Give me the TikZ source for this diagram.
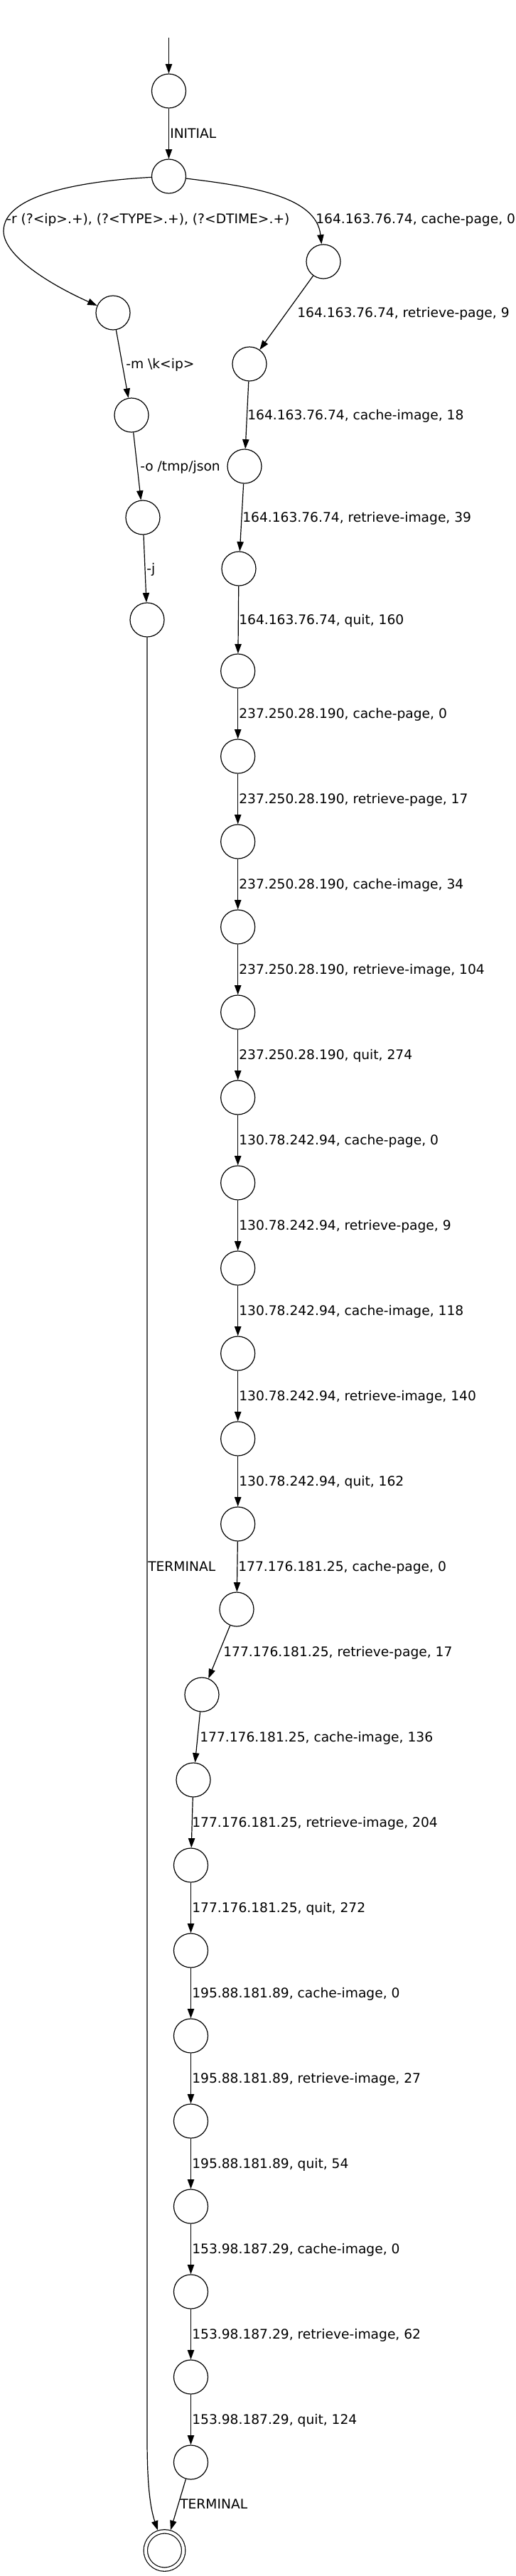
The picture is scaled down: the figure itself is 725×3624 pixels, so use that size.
\documentclass[tikz,border=0pt]{standalone}
\usepackage{fontspec}
\setmainfont{DejaVu Sans}
\usetikzlibrary{arrows.meta}
\begin{document}
\begin{tikzpicture}[x=0.75pt,y=-0.75pt,
  st/.style={circle, draw, line width=0.9pt, minimum size=36pt, inner sep=0pt},
  fin/.style={circle, draw, line width=0.9pt, double, double distance=3.1pt, minimum size=40pt, inner sep=0pt, outer sep=2.45pt},
  arr/.style={line width=0.9pt, -{Triangle[length=10pt,width=7pt]}},
  lbl/.style={anchor=base west, inner sep=0pt, font=\fontsize{14pt}{16pt}\selectfont}]
\useasboundingbox (0,0) rectangle (725,3624);
% nodes
\coordinate (s) at (237.5,53);
\node[st] (n0) at (237.5,128) {};
\node[st] (n1) at (237.5,248) {};
\node[st] (n2) at (455,368) {};
\node[st] (L1) at (159,440) {};
\node[st] (L2) at (185,584) {};
\node[st] (L3) at (201,728) {};
\node[st] (L4) at (207,872) {};
\node[st] (R2) at (351,512) {};
\node[st] (R3) at (344,656) {};
\node[st] (R4) at (336,800) {};
\node[st] (R5) at (334.7,944) {};
\node[st] (R6) at (334.7,1064) {};
\node[st] (R7) at (334.7,1184) {};
\node[st] (R8) at (334.7,1304) {};
\node[st] (R9) at (334.7,1424) {};
\node[st] (R10) at (334.7,1544) {};
\node[st] (R11) at (334.7,1664) {};
\node[st] (R12) at (334.7,1784) {};
\node[st] (R13) at (334.7,1904) {};
\node[st] (R14) at (334.7,2024) {};
\node[st] (R15) at (334.7,2144) {};
\node[st] (R16) at (333,2264) {};
\node[st] (R17) at (284,2384) {};
\node[st] (R18) at (272,2504) {};
\node[st] (R19) at (268.5,2624) {};
\node[st] (R20) at (268.5,2744) {};
\node[st] (R21) at (268.5,2864) {};
\node[st] (R22) at (268.5,2984) {};
\node[st] (R23) at (268.5,3104) {};
\node[st] (R24) at (268.5,3224) {};
\node[st] (R25) at (268.5,3344) {};
\node[st] (R26) at (268.5,3464) {};
\node[fin] (F) at (231.5,3588) {};
\coordinate (bend) at (207,3430);
% edges
\draw[arr] (s) -- (n0);
\draw[arr] (n0) -- (n1);
\draw[arr] (n1) .. controls (350,262) and (445,275) .. (n2);
\draw[arr] (n1) .. controls (110,255) and (5,275) .. (5,325) .. controls (5,360) and (70,400) .. (L1);
\draw[arr] (L1) -- (L2);
\draw[arr] (L2) -- (L3);
\draw[arr] (L3) -- (L4);
\draw[arr] (L4) -- (bend) .. controls (207,3500) and (212,3530) .. (F);
\draw[arr] (n2) -- (R2);
\draw[arr] (R2) -- (R3);
\draw[arr] (R3) -- (R4);
\draw[arr] (R4) -- (R5);
\draw[arr] (R5) -- (R6);
\draw[arr] (R6) -- (R7);
\draw[arr] (R7) -- (R8);
\draw[arr] (R8) -- (R9);
\draw[arr] (R9) -- (R10);
\draw[arr] (R10) -- (R11);
\draw[arr] (R11) -- (R12);
\draw[arr] (R12) -- (R13);
\draw[arr] (R13) -- (R14);
\draw[arr] (R14) -- (R15);
\draw[arr] (R15) -- (R16);
\draw[arr] (R16) -- (R17);
\draw[arr] (R17) -- (R18);
\draw[arr] (R18) -- (R19);
\draw[arr] (R19) -- (R20);
\draw[arr] (R20) -- (R21);
\draw[arr] (R21) -- (R22);
\draw[arr] (R22) -- (R23);
\draw[arr] (R23) -- (R24);
\draw[arr] (R24) -- (R25);
\draw[arr] (R25) -- (R26);
\draw[arr] (R26) -- (F);
% labels
\node[lbl] (t0) at (239,194.8) {INITIAL};
\node[lbl] (t1) at (9,314.8) {-r (?<ip>.+), (?<TYPE>.+), (?<DTIME>.+)};
\node[lbl] (t2) at (444,314.8) {164.163.76.74, cache-page, 0};
\node[lbl] (t3) at (418,446.8) {164.163.76.74, retrieve-page, 9};
\node[lbl] (t4) at (177,518.8) {-m \textbackslash k<ip>};
\node[lbl] (t5) at (348,590.8) {164.163.76.74, cache-image, 18};
\node[lbl] (t6) at (197,662.8) {-o /tmp/json};
\node[lbl] (t7) at (341,734.8) {164.163.76.74, retrieve-image, 39};
\node[lbl] (t8) at (206,806.8) {-j};
\node[lbl] (t9) at (336,878.8) {164.163.76.74, quit, 160};
\node[lbl] (t10) at (336,1010.8) {237.250.28.190, cache-page, 0};
\node[lbl] (t11) at (336,1130.8) {237.250.28.190, retrieve-page, 17};
\node[lbl] (t12) at (336,1250.8) {237.250.28.190, cache-image, 34};
\node[lbl] (t13) at (336,1370.8) {237.250.28.190, retrieve-image, 104};
\node[lbl] (t14) at (336,1490.8) {237.250.28.190, quit, 274};
\node[lbl] (t15) at (336,1610.8) {130.78.242.94, cache-page, 0};
\node[lbl] (t16) at (336,1730.8) {130.78.242.94, retrieve-page, 9};
\node[lbl] (t17) at (336,1850.8) {130.78.242.94, cache-image, 118};
\node[lbl] (t18) at (336,1970.8) {130.78.242.94, retrieve-image, 140};
\node[lbl] (t19) at (336,2090.8) {130.78.242.94, quit, 162};
\node[lbl] (t20) at (208,2210.8) {TERMINAL};
\node[lbl] (t21) at (335,2210.8) {177.176.181.25, cache-page, 0};
\node[lbl] (t22) at (314,2330.8) {177.176.181.25, retrieve-page, 17};
\node[lbl] (t23) at (281,2450.8) {177.176.181.25, cache-image, 136};
\node[lbl] (t24) at (270,2570.8) {177.176.181.25, retrieve-image, 204};
\node[lbl] (t25) at (270,2690.8) {177.176.181.25, quit, 272};
\node[lbl] (t26) at (270,2810.8) {195.88.181.89, cache-image, 0};
\node[lbl] (t27) at (270,2930.8) {195.88.181.89, retrieve-image, 27};
\node[lbl] (t28) at (270,3050.8) {195.88.181.89, quit, 54};
\node[lbl] (t29) at (270,3170.8) {153.98.187.29, cache-image, 0};
\node[lbl] (t30) at (270,3290.8) {153.98.187.29, retrieve-image, 62};
\node[lbl] (t31) at (270,3410.8) {153.98.187.29, quit, 124};
\node[lbl] (t32) at (253,3529.8) {TERMINAL};
\end{tikzpicture}
\end{document}
